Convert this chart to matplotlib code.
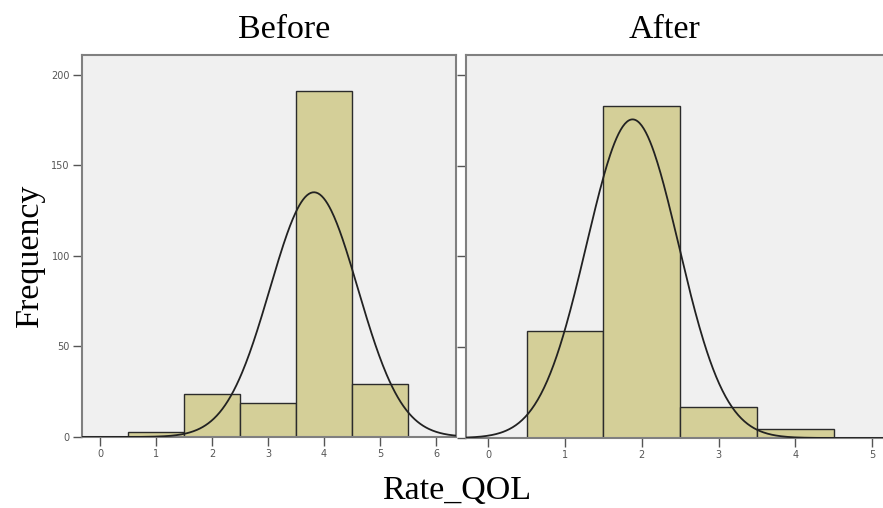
import numpy as np
import matplotlib
matplotlib.use("Agg")
import matplotlib.pyplot as plt

# histogram counts (bins of width 1 centred on integers)
before_bins = [1, 2, 3, 4, 5]
before_counts = [3, 24, 19, 191, 29]
after_bins = [1, 2, 3, 4]
after_counts = [59, 183, 17, 5]

# fitted normal curves (mean / sd)
before_mean, before_sd = 3.82, 0.785
after_mean, after_sd = 1.88, 0.60

y_ticks = [0, 50, 100, 150, 200]

bar_color = "#d4cf98"
bg_color = "#f0f0f0"
serif = ["Liberation Serif", "DejaVu Serif"]


def draw_panel(ax, bins, counts, mean, sd, xlim, xticks, show_ylabels):
    ax.set_facecolor(bg_color)
    ax.bar(bins, counts, width=1.0, color=bar_color, edgecolor="#2b2b2b",
           linewidth=1.0, zorder=2)
    n = sum(counts)
    xs = np.linspace(xlim[0], xlim[1], 400)
    ys = n / (sd * np.sqrt(2 * np.pi)) * np.exp(-0.5 * ((xs - mean) / sd) ** 2)
    ax.plot(xs, ys, color="#222222", linewidth=1.3, zorder=3)
    ax.set_xlim(*xlim)
    ax.set_ylim(0, 211)
    ax.set_xticks(xticks)
    ax.set_yticks(y_ticks)
    if not show_ylabels:
        ax.set_yticklabels([])
    ax.tick_params(axis="both", direction="out", length=6.5, width=1.0,
                   color="#555555", labelcolor="#555555", labelsize=7, pad=2)
    for s in ax.spines.values():
        s.set_color("#808080")
        s.set_linewidth(1.5)


fig = plt.figure(figsize=(8.83, 5.08), dpi=100)

ax1 = fig.add_axes([0.0925, 0.1398, 0.4239, 0.7519])
draw_panel(ax1, before_bins, before_counts, before_mean, before_sd,
           (-0.326, 6.356), range(0, 7), True)

ax2 = fig.add_axes([0.5283, 0.1378, 0.4740, 0.7539])
draw_panel(ax2, after_bins, after_counts, after_mean, after_sd,
           (-0.284, 5.17), range(0, 6), False)

fig.text(0.3215, 0.925, "Before", family=serif, fontsize=24.5,
         ha="center", va="baseline")
fig.text(0.7531, 0.925, "After", family=serif, fontsize=24.5,
         ha="center", va="baseline")
fig.text(0.034, 0.497, "Frequency", family=serif, fontsize=24.5,
         rotation=90, ha="center", va="center")
fig.text(0.5176, 0.017, "Rate_QOL", family=serif, fontsize=24.5,
         ha="center", va="baseline")

fig.savefig("out.png", dpi=100)
